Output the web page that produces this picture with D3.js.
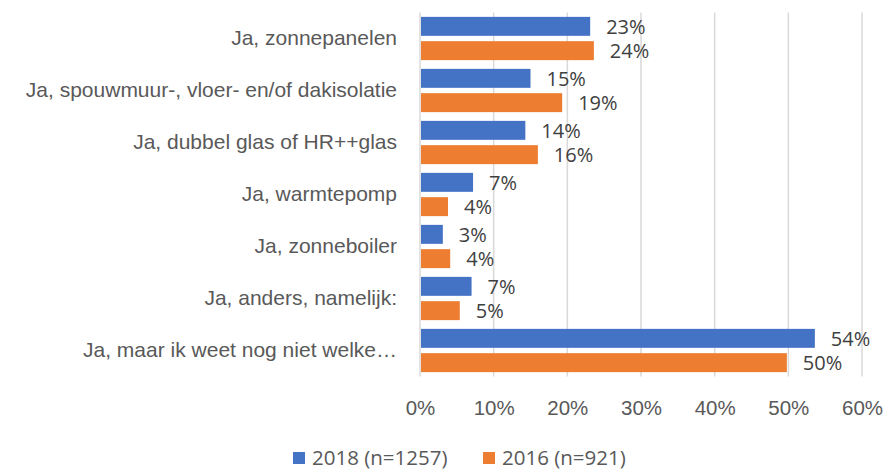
<!DOCTYPE html>
<html>
<head>
<meta charset="utf-8">
<script src="https://cdn.jsdelivr.net/npm/d3@7"></script>
<style>
  body { margin: 0; background: #fff; }
  svg { font-family: "Open Sans", "Noto Sans", sans-serif; }
  .cat { fill: #595959; font-size: 21px; }
  .tick-label { fill: #595959; font-size: 20.5px; }
  .val { fill: #404040; font-size: 20px; }
  .legend { fill: #595959; font-size: 20.5px; }
</style>
</head>
<body>
<div id="chart"></div>
<script>
// chart data
const categories = [
  "Ja, zonnepanelen",
  "Ja, spouwmuur-, vloer- en/of dakisolatie",
  "Ja, dubbel glas of HR++glas",
  "Ja, warmtepomp",
  "Ja, zonneboiler",
  "Ja, anders, namelijk:",
  "Ja, maar ik weet nog niet welke…"
];
const seriesNames = ["2018 (n=1257)", "2016 (n=921)"];
const values2018 = [23.1, 15.0, 14.3, 7.2, 3.1, 7.0, 53.6];
const values2016 = [23.6, 19.3, 16.0, 3.8, 4.1, 5.4, 49.8];
const xTicks = [0, 10, 20, 30, 40, 50, 60];
const colours = ["#4472C4", "#ED7D31"];

const width = 886, height = 472;
const plot = { left: 420, right: 862, top: 12.5, bottom: 376.5 };

const svg = d3.select("#chart")
  .append("svg")
  .attr("width", width)
  .attr("height", height);

// scales
const xScale = d3.scaleLinear()
  .domain([0, 60])
  .range([plot.left, plot.right]);

const yScale = d3.scaleBand()
  .domain(categories)
  .range([plot.top, plot.bottom]);

const inner = d3.scaleBand()
  .domain([0, 1])
  .range([0, yScale.bandwidth()])
  .paddingInner(0.22)
  .paddingOuter(0.18);

// gridlines
svg.append("g")
  .selectAll("line")
  .data(xTicks)
  .join("line")
    .attr("x1", d => xScale(d))
    .attr("x2", d => xScale(d))
    .attr("y1", plot.top)
    .attr("y2", plot.bottom)
    .attr("stroke", "#d9d9d9")
    .attr("stroke-width", 1.5);

// x axis labels
const bottomAxis = d3.axisBottom(xScale)
  .tickValues(xTicks)
  .tickFormat(d => d + "%")
  .tickSize(0)
  .tickPadding(0);

const axisG = svg.append("g")
  .attr("transform", `translate(0,${plot.bottom + 24})`)
  .call(bottomAxis);
axisG.select(".domain").remove();
axisG.selectAll("text")
  .attr("class", "tick-label")
  .attr("font-family", null)
  .attr("font-size", null)
  .attr("fill", null);

// category labels
const leftAxis = d3.axisLeft(yScale).tickSize(0).tickPadding(0);
const catG = svg.append("g")
  .attr("transform", `translate(${plot.left - 23},0)`)
  .call(leftAxis);
catG.select(".domain").remove();
catG.selectAll("text")
  .attr("class", "cat")
  .attr("font-family", null)
  .attr("font-size", null)
  .attr("fill", null);

// bars
const rows = categories.map((c, i) => ({ cat: c, vals: [values2018[i], values2016[i]] }));

const groups = svg.append("g")
  .selectAll("g")
  .data(rows)
  .join("g")
    .attr("transform", d => `translate(0,${yScale(d.cat)})`);

groups.selectAll("rect")
  .data(d => d.vals.map((v, s) => ({ v, s })))
  .join("rect")
    .attr("x", xScale(0) + 1)
    .attr("y", d => inner(d.s))
    .attr("width", d => xScale(d.v) - xScale(0) - 1)
    .attr("height", inner.bandwidth())
    .attr("fill", d => colours[d.s]);

groups.selectAll("text")
  .data(d => d.vals.map((v, s) => ({ v, s })))
  .join("text")
    .attr("class", "val")
    .attr("x", d => xScale(d.v) + 16)
    .attr("y", d => inner(d.s) + inner.bandwidth() / 2)
    .attr("dy", "0.36em")
    .text(d => Math.round(d.v) + "%");

// legend
const legendX = [293, 483];
const legend = svg.append("g")
  .selectAll("g")
  .data(seriesNames)
  .join("g")
    .attr("transform", (d, i) => `translate(${legendX[i]},452)`);

legend.append("rect")
  .attr("width", 12)
  .attr("height", 12)
  .attr("fill", (d, i) => colours[i]);

legend.append("text")
  .attr("class", "legend")
  .attr("x", 19)
  .attr("y", 6)
  .attr("dy", "0.36em")
  .text(d => d);
</script>
</body>
</html>
